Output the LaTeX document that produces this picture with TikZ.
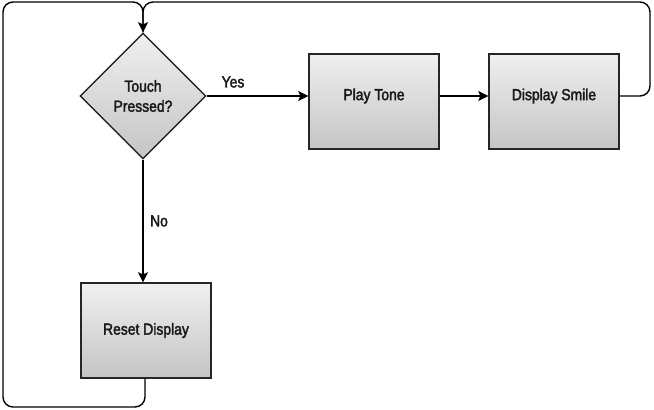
\documentclass[tikz,border=0pt]{standalone}
\usepackage{fontspec}
\newfontfamily\condsans[FakeStretch=0.87,FakeBold=2.2]{Liberation Sans}
\usetikzlibrary{shapes.geometric,arrows.meta,calc}
\begin{document}
\begin{tikzpicture}[x=1pt,y=-1pt,
  every node/.style={font=\condsans\fontsize{16}{18}\selectfont},
  procbox/.style={draw=black!85, line width=1.4pt, top color=black!6, bottom color=black!23, minimum width=130pt, minimum height=95pt, inner sep=0pt},
  decbox/.style={draw=black!85, line width=1.4pt, top color=black!6, bottom color=black!23, shape=diamond, minimum width=126pt, minimum height=126pt, inner sep=0pt, aspect=1},
  flow/.style={line width=1.4pt, -{Stealth[length=10pt,width=10pt,inset=2pt]}},
  plain/.style={line width=1.4pt},
  txt/.style={inner sep=0pt, text=black!90}
]
\useasboundingbox (0,0) rectangle (654,410);
\node[decbox, align=center, text=black!90] (dec) at (143,96) {Touch\\[2pt]Pressed?};
\node[procbox] (tone) at (374,101.5) {};
\node[txt] (tonetxt) at (374,96) {Play Tone};
\node[procbox] (smile) at (554,101.5) {};
\node[txt] (smiletxt) at (554,96) {Display Smile};
\node[procbox, text=black!90] (reset) at (146,330.5) {Reset Display};
\node[txt] (yes) at (233,82) {Yes};
\node[txt] (no) at (159,221) {No};
\draw[flow] (dec.east) -- (dec.east -| tone.west);
\draw[flow] (tone.east |- dec.east) -- (smile.west |- dec.east);
\draw[flow] (dec.south) -- (dec.south |- reset.north);
\draw[plain, rounded corners=10pt] (reset.south -| 145,0) -- (145,407) -- (3,407) -- (3,2) -- (143,2) -- (dec.north);
\draw[flow, rounded corners=10pt] (smile.east |- dec.east) -- (650,96) -- (650,2) -- (143,2) -- (dec.north);
\end{tikzpicture}
\end{document}
